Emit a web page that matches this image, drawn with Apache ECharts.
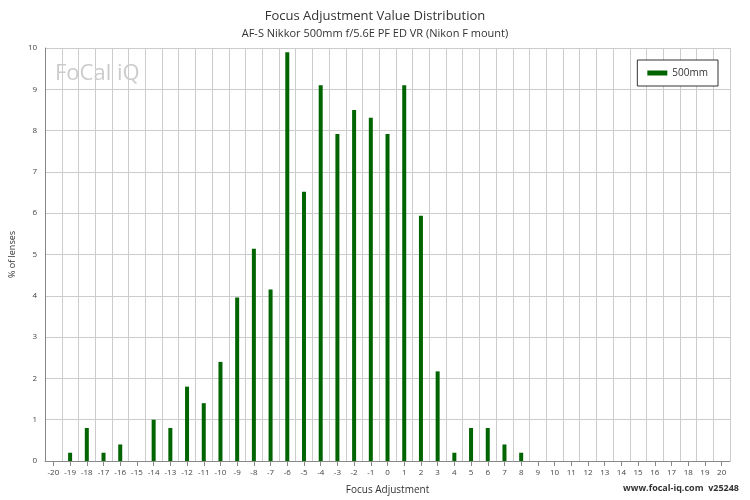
<!DOCTYPE html>
<html><head><meta charset="utf-8">
<script src="https://cdn.jsdelivr.net/npm/echarts@6/dist/echarts.min.js"></script>
<style>html,body{margin:0;padding:0;background:#fff}#c{width:750px;height:500px}</style>
</head><body><div id="c"></div>
<script>
const categories = [];
for (let i = -20; i <= 20; i++) categories.push(String(i));
const valueMap = {"-19":0.2,"-18":0.8,"-17":0.2,"-16":0.4,"-14":1.0,"-13":0.8,"-12":1.8,"-11":1.4,"-10":2.4,"-9":3.96,"-8":5.14,"-7":4.15,"-6":9.9,"-5":6.52,"-4":9.1,"-3":7.92,"-2":8.5,"-1":8.31,"0":7.92,"1":9.1,"2":5.94,"3":2.17,"4":0.2,"5":0.8,"6":0.8,"7":0.4,"8":0.2};
const values = categories.map(c => valueMap[c] !== undefined ? valueMap[c] : null);
const chart = echarts.init(document.getElementById('c'));
const font = 'Open Sans';
chart.setOption({
  animation:false,
  textStyle:{fontFamily:font},
  title:[{text:'Focus Adjustment Value Distribution',subtext:'AF-S Nikkor 500mm f/5.6E PF ED VR (Nikon F mount)',left:'center',top:5,
    textStyle:{fontSize:13,fontWeight:'normal',color:'#333',fontFamily:font},subtextStyle:{fontSize:11,color:'#333',fontFamily:font},itemGap:5},
    {text:'www.focal-iq.com  v25248',right:6,bottom:2,textStyle:{fontSize:9,fontWeight:'bold',color:'#333',fontFamily:font}},
    {text:'FoCal iQ',left:50,top:58,textStyle:{fontSize:22,color:'#ccc',fontWeight:'normal',fontFamily:font}}],
  legend:{right:32,top:60,data:['500mm'],borderColor:'#333',borderWidth:1,padding:[8,10],itemWidth:20,itemHeight:5,
    textStyle:{fontSize:10,color:'#333'},icon:'rect',backgroundColor:'#fff'},
  grid:{left:36,right:20,top:48,bottom:38},
  xAxis:{type:'category',data:categories,name:'Focus Adjustment',nameLocation:'middle',nameGap:24,
    nameTextStyle:{fontSize:10,color:'#333'},
    axisLabel:{fontSize:8,color:'#444',interval:0},axisTick:{show:true,alignWithLabel:true},
    axisLine:{lineStyle:{color:'#888'}},
    splitLine:{show:true,interval:0,lineStyle:{color:'#ccc'}}},
  yAxis:{type:'value',min:0,max:10,interval:1,name:'% of lenses',nameLocation:'middle',nameGap:24,
    nameTextStyle:{fontSize:9,color:'#333'},axisLabel:{fontSize:8,color:'#444'},
    axisLine:{show:true,lineStyle:{color:'#888'}},splitLine:{lineStyle:{color:'#ccc'}}},
  series:[{name:'500mm',type:'bar',data:values,barWidth:4,itemStyle:{color:'#006400'}}]
});
</script></body></html>
